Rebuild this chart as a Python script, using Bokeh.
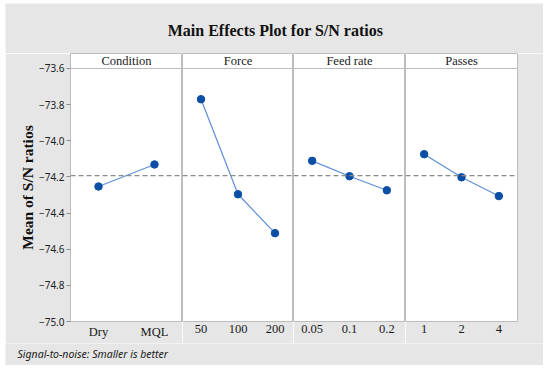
import numpy as np
from bokeh.plotting import figure
from bokeh.layouts import column, row
from bokeh.models import (FactorRange, Range1d, Span, Label, SingleIntervalTicker,
                          CustomJSTickFormatter, ColumnDataSource, Spacer)
from bokeh.core.properties import value
from bokeh.embed import file_html
from bokeh.resources import INLINE

# ---- data ----
factor_names = ["Condition", "Force", "Feed rate", "Passes"]
levels_condition = ["Dry", "MQL"]
sn_condition = [-74.253, -74.131]
levels_force = ["50", "100", "200"]
sn_force = [-73.770, -74.296, -74.511]
levels_feed = ["0.05", "0.1", "0.2"]
sn_feed = [-74.111, -74.196, -74.274]
levels_passes = ["1", "2", "4"]
sn_passes = [-74.074, -74.202, -74.306]

all_levels = [levels_condition, levels_force, levels_feed, levels_passes]
all_sn = [sn_condition, sn_force, sn_feed, sn_passes]
grand_mean = float(np.mean(np.concatenate([np.array(v) for v in all_sn])))

y_min, y_max_tick = -75.0, -73.6
header_top = -73.517

GRAY_BG = "#e6e6e6"
FRAME = "#bdbdbd"
LINE_BLUE = "#5d8fd9"
DOT_BLUE = "#0b4ea6"
SERIF = "Liberation Serif"
SANS = "Noto Sans"

LEFT_B, RIGHT_B = 65, 26
frame_widths = [112, 111, 112, 112]
frame_h = 268
bottom_border = 22

panels = []
for i, (name, levels, sn) in enumerate(zip(factor_names, all_levels, all_sn)):
    left = LEFT_B if i == 0 else 0
    right = RIGHT_B if i == 3 else 0
    p = figure(width=frame_widths[i] + left + right, height=frame_h + bottom_border,
               x_range=FactorRange(factors=levels, range_padding=0),
               y_range=Range1d(y_min, header_top),
               output_backend="svg", toolbar_location=None, title=None,
               min_border_left=left, min_border_right=right,
               min_border_top=0, min_border_bottom=bottom_border)
    p.background_fill_color = "white"
    p.border_fill_color = GRAY_BG
    p.outline_line_color = FRAME
    p.outline_line_width = 1
    p.grid.visible = False

    # x axis
    xa = p.xaxis[0]
    xa.axis_line_color = None
    xa.major_tick_line_color = None
    xa.major_tick_in = 0
    xa.major_tick_out = 0
    xa.minor_tick_line_color = None
    xa.major_label_standoff = 3
    xa.major_label_text_font = SERIF
    xa.major_label_text_font_size = "12.5px"
    xa.major_label_text_color = "#1a1a1a"

    if i == 0:
        ya = p.yaxis[0]
        ya.ticker = SingleIntervalTicker(interval=0.2)
        ya.formatter = CustomJSTickFormatter(code="""
            const v = Math.round(tick*10)/10;
            return (v < 0 ? "\\u2212" : "") + Math.abs(v).toFixed(1);
        """)
        ya.axis_line_color = None
        ya.major_tick_line_color = "#8c8c8c"
        ya.major_tick_in = 0
        ya.major_tick_out = 4
        ya.minor_tick_line_color = None
        ya.major_label_text_font = SANS
        ya.major_label_text_font_size = "10px"
        ya.major_label_text_color = "#222222"
        ya.major_label_standoff = 2
        ya.axis_label = "Mean of S/N ratios"
        ya.axis_label_text_font = SERIF
        ya.axis_label_text_font_style = "bold"
        ya.axis_label_text_font_size = "15.5px"
        ya.axis_label_text_color = "#111111"
        ya.axis_label_standoff = 0
    else:
        p.yaxis.visible = False

    # header strip
    p.add_layout(Span(location=y_max_tick, dimension="width",
                      line_color=FRAME, line_width=1))
    p.add_layout(Label(x=len(levels) / 2, y=(y_max_tick + header_top) / 2,
                       text=name, text_align="center", text_baseline="middle",
                       text_font=SERIF, text_font_size="12.5px", text_color="#1a1a1a"))

    # grand mean reference
    p.add_layout(Span(location=grand_mean, dimension="width",
                      line_color="#8c8c8c", line_width=1.2, line_dash="5 3"))

    src = ColumnDataSource(dict(x=levels, y=sn))
    p.line("x", "y", source=src, line_color=LINE_BLUE, line_width=1.2)
    p.scatter("x", "y", source=src, size=7.5, fill_color=DOT_BLUE,
              line_color=DOT_BLUE)
    panels.append(p)

total_w = sum(frame_widths) + LEFT_B + RIGHT_B

# title figure
title_h = 50
tf = figure(width=total_w, height=title_h, x_range=Range1d(0, total_w),
            y_range=Range1d(0, title_h),
            output_backend="svg", toolbar_location=None, title=None,
            x_axis_type=None, y_axis_type=None, min_border=0)
tf.background_fill_color = GRAY_BG
tf.border_fill_color = GRAY_BG
tf.outline_line_color = None
tf.grid.visible = False
tf.text(x=[270], y=[23], text=["Main Effects Plot for S/N ratios"],
        text_align="center", text_baseline="middle",
        text_font=value(SERIF), text_font_style="bold", text_font_size="16px",
        text_color="#111111")

# footer figure
foot_h = 22
ff = figure(width=total_w, height=foot_h, x_range=Range1d(0, total_w),
            y_range=Range1d(0, foot_h),
            output_backend="svg", toolbar_location=None, title=None,
            x_axis_type=None, y_axis_type=None, min_border=0)
ff.background_fill_color = GRAY_BG
ff.border_fill_color = GRAY_BG
ff.outline_line_color = None
ff.grid.visible = False
ff.text(x=[12], y=[12], text=["Signal-to-noise: Smaller is better"],
        text_align="left", text_baseline="middle",
        text_font=value(SANS), text_font_style="italic", text_font_size="10.5px",
        text_color="#222222")

chart = column(tf, row(*panels, spacing=0), ff, spacing=0)
layout = column(Spacer(height=3), row(Spacer(width=5), chart, spacing=0), spacing=0)

open("out.html", "w").write(file_html(layout, INLINE))
